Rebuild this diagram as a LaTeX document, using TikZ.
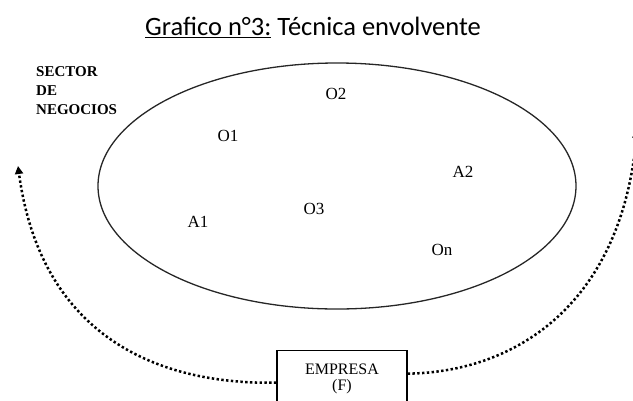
\documentclass[tikz,border=0pt]{standalone}
\usepackage{fontspec}
\setmainfont{Liberation Serif}
\newfontfamily\titlefont{Carlito}
\usetikzlibrary{arrows.meta}

\begin{document}
\begin{tikzpicture}[x=1pt,y=-1pt,
		every node/.style={inner sep=0pt},
		lbl/.style={font=\fontsize{17}{17}\selectfont},
		flecha/.style={line width=2.5pt,dash pattern=on 2.4pt off 2.4pt,-{Triangle[length=8pt,width=8pt]}}]
			\useasboundingbox (0,0) rectangle (633,400);
			\clip (0,0) rectangle (633,400);
			\node (titulo) at (313,27) {\titlefont\fontsize{26.5}{30}\selectfont\underline{Grafico n°3:}~Técnica envolvente};
			\draw [black!85, line width=1.3pt] (337,186) ellipse [x radius=239pt, y radius=123pt];
			\node [anchor=north west, align=left, font=\bfseries\fontsize{15}{19}\selectfont] (sector) at (36,66) {SECTOR\\DE\\NEGOCIOS};
			\node [lbl] (o2) at (336,94) {O2};
			\node [lbl] (o1) at (228,136) {O1};
			\node [lbl] (a2) at (463,172) {A2};
			\node [lbl] (o3) at (314,209) {O3};
			\node [lbl] (a1) at (198,222) {A1};
			\node [lbl] (on) at (442,250) {On};
			\node [draw, line width=1.3pt, minimum width=130pt, minimum height=56pt, anchor=north, align=center, font=\fontsize{16}{16}\selectfont] (empresa) at (342,350) {EMPRESA\\(F)};
			\coordinate (izq) at (18,166);
			\coordinate (der) at (637,130);
			\draw [flecha] ([yshift=-4pt]empresa.west) .. controls (150,385) and (40,330) .. (izq);
			\draw [flecha] ([yshift=5pt]empresa.east) .. controls (520,372) and (622,300) .. (der);
\end{tikzpicture}
\end{document}
